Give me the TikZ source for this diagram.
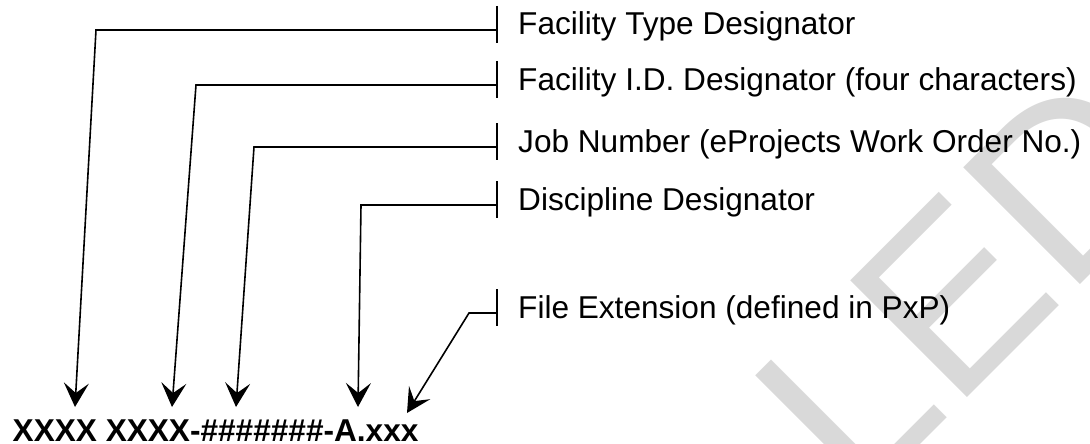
\documentclass[tikz,border=0pt]{standalone}
\usepackage{fontspec}
\setmainfont{Liberation Sans}
\usetikzlibrary{positioning,arrows.meta}

\begin{document}
\begin{tikzpicture}[x=1pt, y=-1pt,
        lbl/.style={anchor=base west, inner xsep=21pt, inner ysep=0pt, font=\fontsize{31.6}{36}\selectfont},
        tick/.style={line width=1.6pt},
        pointer/.style={line width=1.6pt, -{Stealth[length=24pt, width=25pt, inset=10pt]}}]
            \useasboundingbox (0,0) rectangle (1090,444);

            % watermark, only its corner shows
            \begin{scope}
                \clip (0,0) rectangle (1090,444);
                \node (wm) [anchor=base west, rotate=45, inner sep=0pt, text=black!15, font=\fontsize{240}{240}\selectfont] at (858.5,506.4) {LED};
            \end{scope}

            \node (ftd) [lbl] at (497,35) {Facility Type Designator};
            \node (fid) [below=55pt of ftd.base west, lbl] {Facility I.D. Designator (four characters)};
            \node (job) [below=62pt of fid.base west, lbl] {Job Number (eProjects Work Order No.)};
            \node (dsc) [below=58pt of job.base west, lbl] {Discipline Designator};
            \node (ext) [below=108pt of dsc.base west, lbl] {File Extension (defined in PxP)};

            \node (code) [anchor=base west, inner sep=0pt, font=\bfseries\fontsize{31.6}{36}\selectfont] at (12.5,441) {XXXX XXXX-\#\#\#\#\#\#\#-A.xxx};

            \draw [tick] ([yshift=29pt]ftd.base west) -- ([yshift=-8pt]ftd.base west);
            \draw [tick] ([yshift=29pt]fid.base west) -- ([yshift=-8pt]fid.base west);
            \draw [tick] ([yshift=29pt]job.base west) -- ([yshift=-8pt]job.base west);
            \draw [tick] ([yshift=29pt]dsc.base west) -- ([yshift=-8pt]dsc.base west);
            \draw [tick] ([yshift=29pt]ext.base west) -- ([yshift=-8pt]ext.base west);

            \coordinate (a1) at (75,407);
            \coordinate (a2) at (172,407);
            \coordinate (a3) at (236,407);
            \coordinate (a4) at (358,407);
            \coordinate (a5) at (407,413);

            \draw [pointer] ([yshift=5pt]ftd.base west) -- ++(-401,0) -- (a1);
            \draw [pointer] ([yshift=5pt]fid.base west) -- ++(-301,0) -- (a2);
            \draw [pointer] ([yshift=5pt]job.base west) -- ++(-243,0) -- (a3);
            \draw [pointer] ([yshift=5pt]dsc.base west) -- ++(-136,0) -- (a4);
            \draw [pointer] ([yshift=5pt]ext.base west) -- ++(-28,0) -- (a5);
        \end{tikzpicture}
\end{document}
